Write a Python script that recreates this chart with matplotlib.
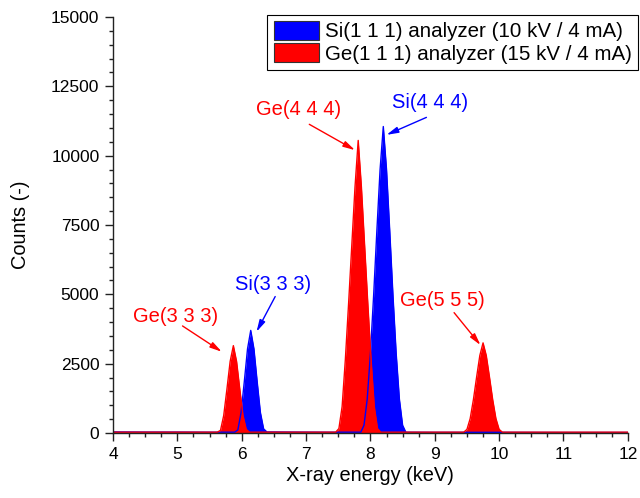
import matplotlib
matplotlib.use('Agg')
import matplotlib.pyplot as plt
from matplotlib.patches import Patch
from matplotlib.ticker import MultipleLocator

plt.rcParams['font.family'] = ['Liberation Sans', 'DejaVu Sans']

# ---------------------------------------------------------------------------
# data (energy in keV, counts)
# ---------------------------------------------------------------------------
si_energy = [4.00, 4.50, 5.00, 5.50, 5.89,
             5.94, 5.99, 6.04, 6.09, 6.14, 6.19, 6.24, 6.29, 6.34, 6.39,
             6.80, 7.30, 7.85,
             7.90, 7.95, 8.00, 8.05, 8.10, 8.15, 8.20, 8.25, 8.30, 8.35, 8.40, 8.45, 8.50, 8.55,
             9.00, 10.00, 11.00, 12.00]
si_counts = [40, 35, 35, 30, 30,
             110, 740, 1850, 3030, 3700, 3030, 1850, 740, 150, 40,
             35, 30, 30,
             280, 1220, 2870, 4970, 7290, 9500, 11050, 9500, 7290, 4970, 2870, 1220, 280, 30,
             25, 25, 20, 20]

ge_energy = [4.00, 4.50, 5.00, 5.62,
             5.67, 5.72, 5.77, 5.82, 5.87, 5.92, 5.97, 6.02, 6.07, 6.12,
             6.60, 7.00, 7.46,
             7.51, 7.56, 7.61, 7.66, 7.71, 7.76, 7.81, 7.86, 7.91, 7.96, 8.01, 8.06, 8.11, 8.16,
             8.60, 9.00, 9.45,
             9.50, 9.55, 9.60, 9.65, 9.70, 9.75, 9.80, 9.85, 9.90, 9.95, 10.00, 10.05,
             10.50, 11.00, 12.00]
ge_counts = [30, 30, 30, 30,
             95, 630, 1580, 2580, 3150, 2580, 1580, 630, 130, 30,
             30, 30, 30,
             160, 950, 2640, 4640, 6750, 8860, 10550, 8860, 6750, 4640, 2640, 950, 160, 30,
             30, 30, 30,
             130, 520, 1200, 2015, 2795, 3250, 2795, 2015, 1200, 520, 130, 30,
             30, 30, 30]

series_labels = ['Si(1 1 1) analyzer (10 kV / 4 mA)',
                 'Ge(1 1 1) analyzer (15 kV / 4 mA)']

# peak labels: text, text position, arrow tip
peak_labels = ['Ge(3 3 3)', 'Si(3 3 3)', 'Ge(4 4 4)', 'Si(4 4 4)', 'Ge(5 5 5)']
label_colors = ['red', 'blue', 'red', 'blue', 'red']
label_xy = [(4.97, 4200), (6.49, 5370), (6.88, 11650), (8.92, 11900), (9.12, 4760)]
arrow_tail = [(5.08, 3860), (6.52, 4920), (7.05, 11130), (8.87, 11380), (9.30, 4340)]
arrow_head = [(5.69, 2930), (6.23, 3650), (7.76, 10200), (8.25, 10750), (9.71, 3170)]

# ---------------------------------------------------------------------------
# plot
# ---------------------------------------------------------------------------
fig = plt.figure(figsize=(6.4, 4.98), dpi=100)
ax = fig.add_axes([0.1766, 0.1305, 0.8044, 0.8354])

ax.fill_between(si_energy, si_counts, 0, color='#0000ff', lw=0)
ax.plot(si_energy, si_counts, color='#0000ff', lw=1.0)
ax.fill_between(ge_energy, ge_counts, 0, color='#ff0000', lw=0)
ax.plot(ge_energy, ge_counts, color='#ff0000', lw=1.0)

for txt, col, xy, tail, head in zip(peak_labels, label_colors, label_xy, arrow_tail, arrow_head):
    ax.text(xy[0], xy[1], txt, color=col, fontsize=14.5, ha='center', va='center')
    ax.annotate('', xy=head, xytext=tail,
                arrowprops=dict(arrowstyle='-|>,head_length=0.7,head_width=0.18',
                                color=col, lw=1.0, shrinkA=0, shrinkB=0))

ax.set_xlim(4, 12)
ax.set_ylim(0, 15000)
ax.xaxis.set_major_locator(MultipleLocator(1))
ax.xaxis.set_minor_locator(MultipleLocator(0.25))
ax.yaxis.set_major_locator(MultipleLocator(2500))
ax.yaxis.set_minor_locator(MultipleLocator(500))

ax.spines['top'].set_visible(False)
ax.spines['right'].set_visible(False)
for s in ['left', 'bottom']:
    ax.spines[s].set_linewidth(1.0)
    ax.spines[s].set_color('#222222')

ax.tick_params(which='major', direction='out', length=5.8, width=1.0, labelsize=12.5,
               pad=4, color='#222222')
ax.tick_params(which='minor', direction='out', length=3, width=1.0, color='#222222')

ax.set_xlabel('X-ray energy (keV)', fontsize=14.4, labelpad=3)
ax.set_ylabel('Counts (-)', fontsize=14.4, labelpad=15)

handles = [Patch(facecolor='#0000ff', edgecolor='#333333', lw=0.8),
           Patch(facecolor='#ff0000', edgecolor='#333333', lw=0.8)]
leg = ax.legend(handles, series_labels, loc='upper right',
                bbox_to_anchor=(638 / 640, 1 - 15 / 498), bbox_transform=fig.transFigure,
                fontsize=14.8, frameon=True, fancybox=False, framealpha=1,
                edgecolor='black', borderpad=0.3, labelspacing=0.1,
                handlelength=2.2, handleheight=1.0, handletextpad=0.3, borderaxespad=0)
leg.get_frame().set_linewidth(0.8)

plt.savefig('out.png', dpi=100)
